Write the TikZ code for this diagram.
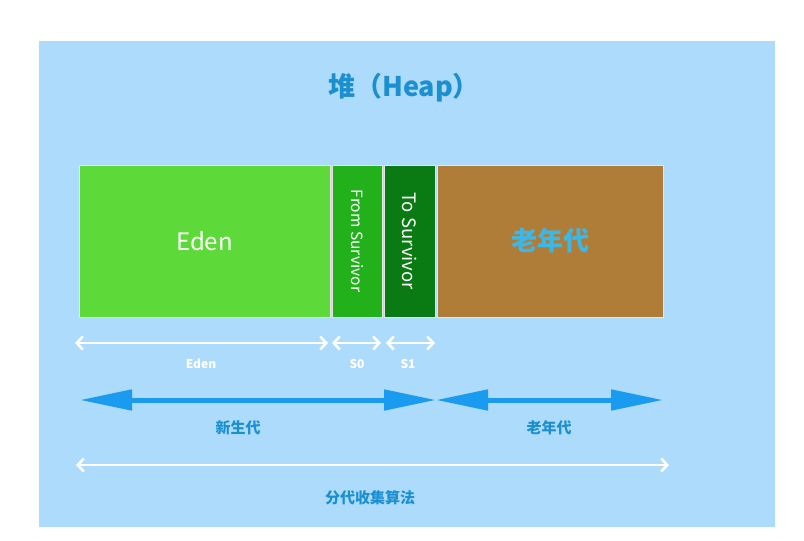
\documentclass[tikz,border=0pt]{standalone}
\usepackage{fontspec}
\setmainfont{Noto Sans CJK SC}
\usetikzlibrary{positioning,arrows.meta}
\definecolor{heapbg}{HTML}{ADDBFC}
\definecolor{edenc}{HTML}{5ED93A}
\definecolor{fromc}{HTML}{22B11B}
\definecolor{toc}{HTML}{0A7A12}
\definecolor{oldc}{HTML}{B07D38}
\definecolor{titlec}{HTML}{1C8FCF}
\definecolor{oldtxt}{HTML}{3CB8E8}
\definecolor{arrowc}{HTML}{1A9BF0}
\tikzset{
  area/.style={draw=white!80!gray, line width=0.6pt, anchor=north west, inner sep=0pt, outer sep=0pt, minimum height=152pt},
  vtext/.style={text=white, font=\fontsize{15.5}{15.5}\selectfont, rotate=-90},
  wharrow/.style={white, line width=2.6pt, {Straight Barb[length=6pt,width=13pt]}-{Straight Barb[length=6pt,width=13pt]}},
  bigarrow/.style={arrowc, line width=5pt, {Triangle[length=52pt,width=20pt]}-{Triangle[length=52pt,width=20pt]}},
  small/.style={text=white, font=\fontsize{12}{12}\selectfont\bfseries},
  genlbl/.style={text=titlec, font=\fontsize{15}{15}\selectfont\bfseries}
}
\begin{document}
\begin{tikzpicture}[x=1pt, y=-1pt, line join=round, line cap=round, >=stealth]
	\useasboundingbox[fill=white] (0,0) rectangle (804,541);
	\fill[heapbg] (39,41) rectangle (775,527);
	\node[text=titlec, font=\fontsize{27}{27}\selectfont\bfseries] (title) at (404,88) {堆（Heap）};
	% heap regions
	\node[area, fill=edenc, minimum width=251pt, text=white, font=\fontsize{24}{24}\selectfont] (eden) at (79,165) {Eden};
	\node[area, fill=fromc, minimum width=50pt, right=2pt of eden] (from) {};
	\node[area, fill=toc, minimum width=51pt, right=2pt of from] (to) {};
	\node[area, fill=oldc, minimum width=226pt, right=2pt of to, text=oldtxt, font=\fontsize{26}{26}\selectfont\bfseries] (old) {老年代};
	\node[vtext] (fromlbl) at (from.center) {From Survivor};
	\node[vtext, font=\fontsize{18.5}{18.5}\selectfont] (tolbl) at (to.center) {To Survivor};
	% sizes
	\coordinate (e1) at (75,343); \coordinate (e2) at (328,343);
	\coordinate (s0a) at (332,343); \coordinate (s0b) at (381,343);
	\coordinate (s1a) at (386,343); \coordinate (s1b) at (435,343);
	\draw[wharrow] (e1)--(e2);
	\draw[wharrow] (s0a)--(s0b);
	\draw[wharrow] (s1a)--(s1b);
	\node[small] (edenlbl) at (201,364) {Eden};
	\node[small] (s0lbl) at (357,364) {S0};
	\node[small] (s1lbl) at (408,364) {S1};
	% generations
	\coordinate (y1) at (80,400); \coordinate (y2) at (436,400); \coordinate (o2) at (663,400);
	\draw[bigarrow] (y1)--(y2);
	\draw[bigarrow] (y2)--(o2);
	\node[genlbl] (younglbl) at (238,428) {新生代};
	\node[genlbl] (oldlbl) at (549,428) {老年代};
	\coordinate (a1) at (76,465); \coordinate (a2) at (669,465);
	\draw[wharrow] (a1)--(a2);
	\node[genlbl] (algolbl) at (370,498) {分代收集算法};
\end{tikzpicture}
\end{document}
